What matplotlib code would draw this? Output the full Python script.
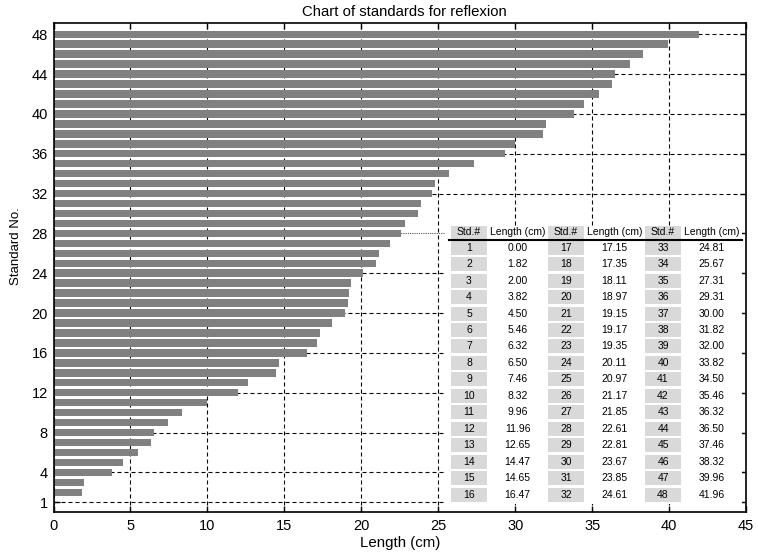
import matplotlib
matplotlib.use("Agg")
import matplotlib.pyplot as plt
from matplotlib.patches import Rectangle

plt.rcParams['font.family'] = ['Liberation Sans', 'DejaVu Sans']

standards = list(range(1, 49))
lengths = [0.00, 1.82, 2.00, 3.82, 4.50, 5.46, 6.32, 6.50, 7.46, 8.32, 9.96, 11.96,
           12.65, 14.47, 14.65, 16.47, 17.15, 17.35, 18.11, 18.97, 19.15, 19.17, 19.35, 20.11,
           20.97, 21.17, 21.85, 22.61, 22.81, 23.67, 23.85, 24.61, 24.81, 25.67, 27.31, 29.31,
           30.00, 31.82, 32.00, 33.82, 34.50, 35.46, 36.32, 36.50, 37.46, 38.32, 39.96, 41.96]
xticks = [0, 5, 10, 15, 20, 25, 30, 35, 40, 45]
yticks = [1, 4, 8, 12, 16, 20, 24, 28, 32, 36, 40, 44, 48]
title = "Chart of standards for reflexion"
xlabel = "Length (cm)"
ylabel = "Standard No."
col_headers = ["Std.#", "Length (cm)"]

W, H = 758, 552
fig = plt.figure(figsize=(W / 100, H / 100), dpi=100)
ax = fig.add_axes([53.5 / W, 1 - 511.7 / H, (746 - 53.5) / W, (511.7 - 23.3) / H])

ax.barh(standards, lengths, height=0.75, color='#808080', zorder=2)
ax.set_xlim(0, 45)
ax.set_ylim(0.05, 49.1)
ax.set_xticks(xticks)
ax.set_yticks(yticks)
ax.tick_params(direction='in', top=True, right=True, length=4, width=1, labelsize=10.5)
ax.tick_params(axis='x', pad=5)
ax.tick_params(axis='y', pad=4)
ax.grid(True, color='black', linestyle=(0, (3.6, 2.7)), linewidth=0.8, zorder=1)
ax.set_axisbelow(True)
gl = ax.yaxis.get_gridlines()
gl[yticks.index(28)].set_linestyle((0, (1, 1)))
gl[yticks.index(28)].set_color('#555555')
for s in ax.spines.values():
    s.set_linewidth(1.2)
ax.set_xlabel(xlabel, fontsize=10.8)
ax.xaxis.set_label_coords((400 - 53.5) / 692.5, (511.7 - 535.5) / 488.4)
ax.set_ylabel(ylabel, fontsize=9.5)
ax.yaxis.set_label_coords((22 - 53.5) / 692.5, (511.7 - 246) / 488.4)

# overlay in pixel coordinates
tx = fig.add_axes([0, 0, 1, 1], zorder=5)
tx.set_xlim(0, W)
tx.set_ylim(H, 0)
tx.axis('off')
tx.patch.set_alpha(0)

tx.text(404, 11.5, title, ha='center', va='center', fontsize=10.7)

tx.add_patch(Rectangle((445, 226), 742 - 445, 504 - 226, facecolor='white', edgecolor='none'))
std_w, len_w = 36, 61
group_x = [451, 548, 645]
header_y = 232.3
row0 = 247.7
dy = 16.46
fs = 7.5
for g, gx in enumerate(group_x):
    tx.add_patch(Rectangle((gx, header_y - 6.5), std_w, 13, facecolor='#d9d9d9', edgecolor='none'))
    tx.text(gx + std_w / 2, header_y, col_headers[0], ha='center', va='center', fontsize=fs)
    tx.text(gx + std_w + len_w / 2, header_y, col_headers[1], ha='center', va='center', fontsize=fs)
    for r in range(16):
        idx = g * 16 + r
        cy = row0 + r * dy
        tx.add_patch(Rectangle((gx, cy - 7), std_w, 14, facecolor='#d9d9d9', edgecolor='none'))
        tx.text(gx + std_w / 2, cy, str(standards[idx]), ha='center', va='center', fontsize=fs)
        tx.text(gx + std_w + len_w / 2, cy, f"{lengths[idx]:.2f}", ha='center', va='center', fontsize=fs)
tx.plot([449, 742], [239.5, 239.5], color='black', lw=1.5)

fig.savefig('out.png', dpi=100)
